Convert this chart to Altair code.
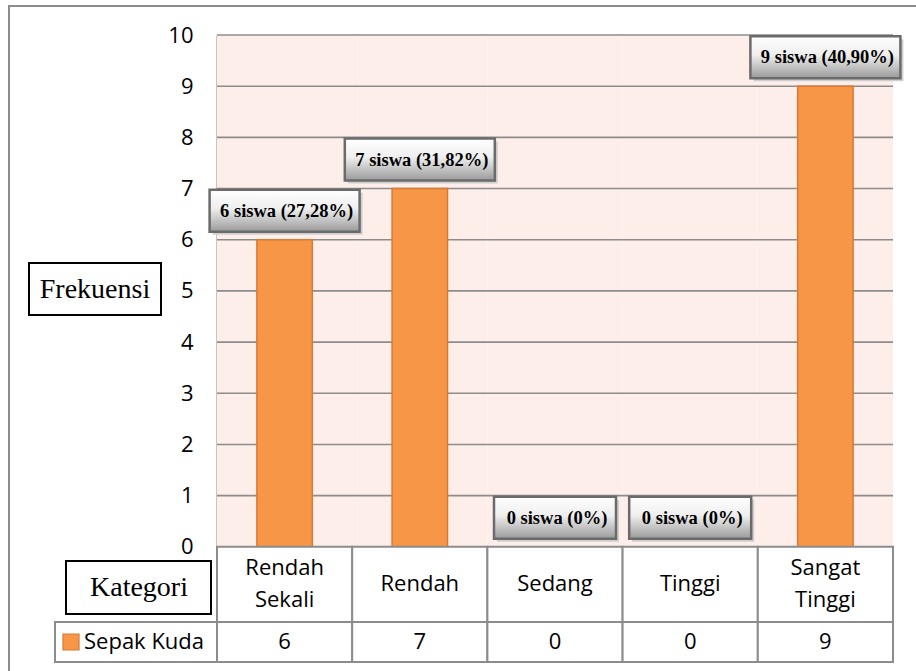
import altair as alt
import pandas as pd

# ---- data -------------------------------------------------------------
categories = ["Rendah Sekali", "Rendah", "Sedang", "Tinggi", "Sangat Tinggi"]
frequencies = [6, 7, 0, 0, 9]
percentages = ["27,28%", "31,82%", "0%", "0%", "40,90%"]
series_name = "Sepak Kuda"
unit_word = "siswa"
y_ticks = [0, 1, 2, 3, 4, 5, 6, 7, 8, 9, 10]
y_title = "Frekuensi"
x_title = "Kategori"

# ---- frames -----------------------------------------------------------
df = pd.DataFrame({"cat": categories, "freq": frequencies, "pct": percentages})
df["label"] = df["freq"].astype(str) + " " + unit_word + " (" + df["pct"] + ")"
df["long"] = df["pct"].str.len() > 3
grid_df = pd.DataFrame({"v": y_ticks})
legend_df = pd.DataFrame({"name": [series_name]})
titles_df = pd.DataFrame({"ytitle": [y_title], "xtitle": [x_title]})

W, H = 676, 627
Y_MIN = -2.25   # bottom of the data table
HEAD = -1.47    # boundary between header row and value row
Y_MAX = 10

yscale = alt.Scale(domain=[Y_MIN, Y_MAX], nice=False, zero=False)
yax = alt.Axis(values=y_ticks, grid=False, ticks=False, domain=True,
               domainColor="#8c8c8c", domainWidth=2, labelFont="Open Sans",
               labelFontSize=22, labelColor="black", labelPadding=24, title=None)
xenc = alt.X("cat:N", sort=categories,
             scale=alt.Scale(paddingInner=0, paddingOuter=0), axis=None)


def Y(field):
    return alt.Y(field, scale=yscale, axis=yax)


base = alt.Chart(df).transform_calculate(
    zero="0", top=str(Y_MAX), head=str(HEAD), bottom=str(Y_MIN),
    hmid=str((HEAD) / 2), vmid=str((HEAD + Y_MIN) / 2)
)

# plot background (pink) per category band
bg = base.mark_rect(fill="#FDEEE9").encode(x=xenc, y=Y("zero:Q"), y2="top:Q")

# grid lines
grid = alt.Chart(grid_df).mark_rule(color="#8c8c8c", strokeWidth=1.6).encode(
    y=Y("v:Q"))

# bars
bars = base.transform_filter("datum.freq > 0").mark_bar(
    width=alt.RelativeBandSize(0.41), color="#F79646", stroke="#D77A33",
    strokeWidth=1.5
).encode(x=xenc, y=Y("freq:Q"), y2="zero:Q")

# label boxes
grad = alt.LinearGradient(
    gradient="linear", x1=0, x2=0, y1=0, y2=1,
    stops=[alt.GradientStop(color="#ffffff", offset=0),
           alt.GradientStop(color="#eeeeee", offset=0.45),
           alt.GradientStop(color="#9a9a9a", offset=1)])


def label_layers(sel, w):
    d = base.transform_filter(sel)
    shadow = d.mark_bar(width=w, color="#cfcfcf", xOffset=3, yOffset=-5,
                        y2Offset=-47).encode(x=xenc, y=Y("freq:Q"), y2="freq:Q")
    box = d.mark_bar(width=w, fill=grad, stroke="#6b6b6b", strokeWidth=2.5,
                     yOffset=-8, y2Offset=-50).encode(x=xenc, y=Y("freq:Q"),
                                                      y2="freq:Q")
    txt = d.mark_text(font="Liberation Serif", fontWeight="bold", fontSize=18.5,
                      dy=-29, dx=2, baseline="middle", color="black").encode(
        x=xenc, y=Y("freq:Q"), text="label:N")
    return [shadow, box, txt]


long_layers = label_layers("datum.long", 150)
short_layers = label_layers("!datum.long", 122)

# data table below the plot
cell_style = dict(fill="white", stroke="#8c8c8c", strokeWidth=2)
head_cells = base.mark_rect(**cell_style).encode(x=xenc, y=Y("zero:Q"), y2="head:Q")
val_cells = base.mark_rect(**cell_style).encode(x=xenc, y=Y("head:Q"), y2="bottom:Q")
text_style = dict(font="Open Sans", fontSize=22, baseline="middle", color="black")
head_text_1 = base.transform_filter("indexof(datum.cat, ' ') < 0").mark_text(
    **text_style).encode(x=xenc, y=Y("hmid:Q"), text="cat:N")
head_text_2 = base.transform_filter("indexof(datum.cat, ' ') >= 0").mark_text(
    lineBreak=" ", lineHeight=32, dy=-16, **text_style).encode(
    x=xenc, y=Y("hmid:Q"), text="cat:N")
val_text = base.mark_text(**text_style).encode(
    x=xenc, y=Y("vmid:Q"), text="freq:Q")

lbase = alt.Chart(legend_df).transform_calculate(
    head=str(HEAD), bottom=str(Y_MIN), vmid=str((HEAD + Y_MIN) / 2))
leg_cell = lbase.mark_rect(**cell_style).encode(
    x=alt.value(-162), x2=alt.value(0), y=Y("head:Q"), y2="bottom:Q")
leg_swatch = lbase.mark_rect(fill="#F79646", stroke="#D77A33", strokeWidth=1.2).encode(
    x=alt.value(-154), x2=alt.value(-138), y=alt.value(599), y2=alt.value(615))
leg_text = lbase.mark_text(font="Open Sans", fontSize=22, align="left",
                           baseline="middle", color="black").encode(
    x=alt.value(-133), y=Y("vmid:Q"), text="name:N")

# boxed axis titles
tbase = alt.Chart(titles_df)
ybox = tbase.mark_rect(fill="white", stroke="black", strokeWidth=2).encode(
    x=alt.value(-188), x2=alt.value(-56), y=alt.value(228), y2=alt.value(280))
ytxt = tbase.mark_text(font="Liberation Serif", fontSize=28, baseline="middle",
                       color="black").encode(
    x=alt.value(-122), y=alt.value(255), text="ytitle:N")
xbox = tbase.mark_rect(fill="white", stroke="black", strokeWidth=2).encode(
    x=alt.value(-151), x2=alt.value(-6), y=alt.value(526), y2=alt.value(579))
xtxt = tbase.mark_text(font="Liberation Serif", fontSize=28, baseline="middle",
                       color="black").encode(
    x=alt.value(-78), y=alt.value(553), text="xtitle:N")

# outer frame
frame = tbase.mark_rect(fill=None, stroke="#8c8c8c", strokeWidth=2).encode(
    x=alt.value(-208), x2=alt.value(720), y=alt.value(-29), y2=alt.value(660))

chart = alt.layer(
    frame, bg, grid, bars, head_cells, val_cells, head_text_1, head_text_2,
    val_text, leg_cell, leg_swatch, leg_text, ybox, ytxt, xbox, xtxt,
    *long_layers, *short_layers
).properties(
    width=W, height=H, autosize="none",
    padding={"left": 217, "top": 35, "right": 23, "bottom": 9},
    background="white"
).configure_view(stroke=None)

chart.save("out.html", embed_options={"renderer": "svg", "actions": False})
